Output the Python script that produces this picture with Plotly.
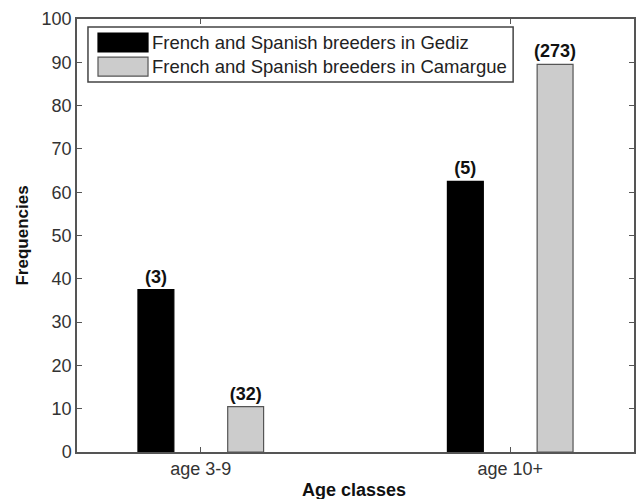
import plotly.graph_objects as go

categories = ["age 3-9", "age 10+"]
cat_pos = [1, 2]
series_names = ["French and Spanish breeders in Gediz",
                "French and Spanish breeders in Camargue"]
gediz_freq = [37.5, 62.5]
camargue_freq = [10.5, 89.5]
gediz_n = [3, 5]
camargue_n = [32, 273]
y_ticks = list(range(0, 101, 10))

FONT = "Liberation Sans, Arial, sans-serif"
fills = ["#000000", "#cccccc"]
lines = ["#000000", "#555555"]

fig = go.Figure()
for name, vals, ns, fc, lc in zip(series_names, [gediz_freq, camargue_freq],
                                  [gediz_n, camargue_n], fills, lines):
    fig.add_trace(go.Bar(
        x=cat_pos, y=vals, name=name,
        marker=dict(color=fc, line=dict(color=lc, width=1.2)),
        text=[f"<b>({n})</b>" for n in ns],
        textposition="outside",
        constraintext="none",
        textfont=dict(family=FONT, size=18, color="#111111"),
        cliponaxis=False,
        showlegend=False,
        hoverinfo="skip",
    ))

fig.update_layout(
    width=636, height=499,
    margin=dict(l=77, r=2, t=19, b=47, autoexpand=False),
    paper_bgcolor="white", plot_bgcolor="white",
    barmode="group", bargap=0.42, bargroupgap=0.6,
    font=dict(family=FONT, size=18, color="#333333"),
)
fig.update_xaxes(
    range=[0.6, 2.4], tickvals=cat_pos, ticktext=categories,
    ticks="inside", ticklen=5, tickcolor="#555555",
    showline=True, linecolor="#555555", linewidth=1.5, mirror="ticks",
    showgrid=False, zeroline=False, automargin=False,
    tickfont=dict(size=18, color="#333333"),
)
fig.update_yaxes(
    range=[0, 100], tickvals=y_ticks,
    ticks="inside", ticklen=5, tickcolor="#555555",
    showline=True, linecolor="#555555", linewidth=1.5, mirror="ticks",
    showgrid=False, zeroline=False, automargin=False,
    tickfont=dict(size=18, color="#333333"),
)

# axis titles
fig.add_annotation(xref="paper", yref="paper", x=0.498, y=-0.0878,
                   text="<b>Age classes</b>", showarrow=False,
                   xanchor="center", yanchor="middle",
                   font=dict(family=FONT, size=18, color="#111111"))
fig.add_annotation(xref="paper", yref="paper", x=-0.0987, y=0.5,
                   text="<b>Frequencies</b>", showarrow=False, textangle=-90,
                   xanchor="center", yanchor="middle",
                   font=dict(family=FONT, size=17, color="#111111"))

# legend box drawn in paper coordinates
fig.add_shape(type="rect", xref="paper", yref="paper",
              x0=0.0197, x1=0.783, y0=0.8545, y1=0.9815,
              line=dict(color="#444444", width=1.5), fillcolor="white")
sw = [(0.9677, 0.9238), (0.912, 0.868)]
for (ya, yb), name, fc, lc in zip(sw, series_names, fills, lines):
    fig.add_shape(type="rect", xref="paper", yref="paper",
                  x0=0.0377, x1=0.1275, y0=yb, y1=ya,
                  line=dict(color=lc, width=1.2), fillcolor=fc)
    fig.add_annotation(xref="paper", yref="paper", x=0.131, y=(ya + yb) / 2,
                       text=name, showarrow=False, xanchor="left", yanchor="middle",
                       font=dict(family=FONT, size=18.5, color="#222222"))

fig.write_html("out.html",
               config={"displayModeBar": False},
               post_script="document.body.style.margin='0';document.body.style.overflow='hidden';")
